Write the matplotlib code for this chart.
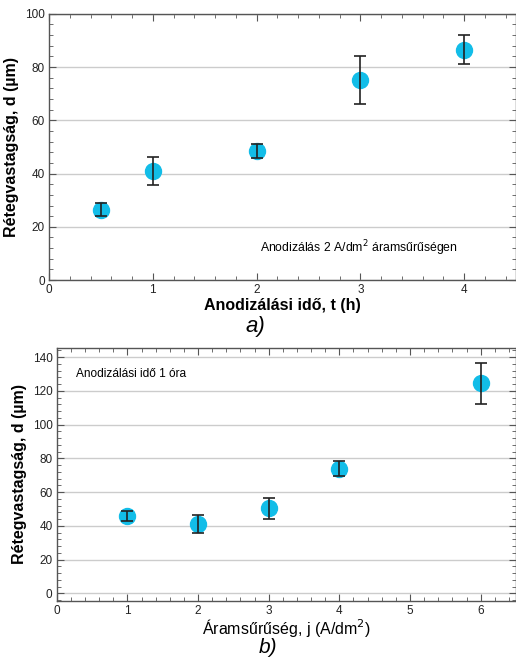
import matplotlib
matplotlib.use("Agg")
import matplotlib.pyplot as plt
from matplotlib.ticker import MultipleLocator
from matplotlib import font_manager

# Data - panel a
t_hours = [0.5, 1, 2, 3, 4]
d_a = [26.5, 41, 48.5, 75, 86.5]
err_a = [2.5, 5.2, 2.5, 9, 5.5]

# Data - panel b
j_current = [1, 2, 3, 4, 6]
d_b = [46, 41, 50.5, 74, 124.5]
err_b = [3, 5.3, 6.2, 4.5, 12]

names = {f.name for f in font_manager.fontManager.ttflist}
narrow = "Liberation Sans Narrow" if "Liberation Sans Narrow" in names else "Liberation Sans"
plt.rcParams["font.family"] = ["Liberation Sans", "DejaVu Sans"]

cyan = "#12BDE8"
spine_c = "#555555"

fig = plt.figure(figsize=(5.16, 6.59), dpi=100)
ax1 = fig.add_axes([0.095, 0.575, 0.905, 0.404])
ax2 = fig.add_axes([0.110, 0.0885, 0.890, 0.383])

def style(ax):
    for s in ax.spines.values():
        s.set_color(spine_c)
        s.set_linewidth(1.0)
    ax.tick_params(which="both", direction="in", top=True, right=True,
                   color=spine_c, labelsize=8.5, labelcolor="#222222", pad=3)
    ax.tick_params(which="major", length=5)
    ax.tick_params(which="minor", length=3)
    ax.grid(axis="y", which="major", color="#cccccc", linewidth=1.0)
    ax.set_axisbelow(True)

def draw(ax, x, y, e):
    ax.plot(x, y, "o", color=cyan, markersize=11.5, zorder=3)
    ax.errorbar(x, y, yerr=e, fmt="none", ecolor="#222222", elinewidth=1.2,
                capsize=4, capthick=1.2, zorder=4)

style(ax1)
draw(ax1, t_hours, d_a, err_a)
ax1.set_xlim(0, 4.5)
ax1.set_ylim(0, 100)
ax1.xaxis.set_major_locator(MultipleLocator(1))
ax1.xaxis.set_minor_locator(MultipleLocator(0.2))
ax1.yaxis.set_major_locator(MultipleLocator(20))
ax1.yaxis.set_minor_locator(MultipleLocator(4))
ax1.set_xlabel("Anodizálási idő, t (h)", fontsize=11.5, fontweight="bold", labelpad=1)
ax1.set_ylabel("Rétegvastagság, d (µm)", fontsize=11.5, fontweight="bold", labelpad=4)
ax1.text(2.03, 12, "Anodizálás 2 A/dm$^2$ áramsűrűségen", fontsize=8.8,
         family=[narrow, "DejaVu Sans"], va="center")
fig.text(0.495, 0.505, "a)", fontsize=16, style="italic", ha="center", va="center")

style(ax2)
draw(ax2, j_current, d_b, err_b)
ax2.set_xlim(0, 6.5)
ax2.set_ylim(-4.3, 145.3)
ax2.xaxis.set_major_locator(MultipleLocator(1))
ax2.xaxis.set_minor_locator(MultipleLocator(0.2))
ax2.yaxis.set_major_locator(MultipleLocator(20))
ax2.yaxis.set_minor_locator(MultipleLocator(4))
ax2.set_xlabel("Áramsűrűség, j (A/dm$^2$)", fontsize=11.5, labelpad=0)
ax2.set_ylabel("Rétegvastagság, d (µm)", fontsize=11.5, fontweight="bold", labelpad=4)
ax2.text(0.27, 130, "Anodizálási idő 1 óra", fontsize=8.6,
         family=[narrow, "DejaVu Sans"], va="center")
fig.text(0.52, 0.018, "b)", fontsize=15, style="italic", ha="center", va="center")

fig.savefig("out.png", dpi=100)
